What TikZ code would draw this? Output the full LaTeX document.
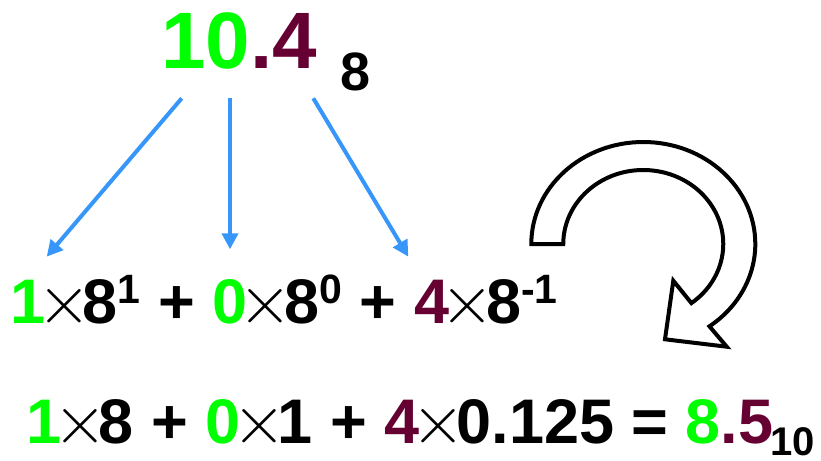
\RequirePackage{fix-cm}
\documentclass[tikz,border=0pt]{standalone}
\usepackage{fontspec}
\setmainfont{Liberation Sans}
\usetikzlibrary{arrows.meta}
\definecolor{dgreen}{RGB}{0,255,0}
\definecolor{maroon}{RGB}{102,0,51}
\definecolor{ablue}{RGB}{55,150,250}
\newcommand{\tm}{\makebox[37pt]{\scalebox{1.1}{$\times$}}}
\newcommand{\sups}[1]{\raisebox{20pt}{\fontsize{41}{41}\selectfont #1}}
\begin{document}
\begin{tikzpicture}[x=1pt,y=-1pt,
  txt/.style={inner sep=0pt, anchor=base west},
  big/.style={txt, font=\bfseries\fontsize{80}{80}\selectfont},
  mid/.style={txt, font=\bfseries\fontsize{63}{63}\selectfont},
  sub/.style={txt, font=\bfseries\fontsize{54}{54}\selectfont},
  small/.style={txt, font=\bfseries\fontsize{40}{40}\selectfont},
  link/.style={draw=ablue, line width=4pt, -{Triangle[length=16pt,width=16pt]}},
  turn/.style={draw=black, line width=4pt, fill=white, line join=miter}]
\useasboundingbox (0,0) rectangle (821,460);
\node[big] (num) at (161,68) {\textcolor{dgreen}{10}\textcolor{maroon}{.4}};
\node[sub] (radix) at (340.5,90) {8};
\node[mid] (expand) at (10.5,323.3) {\textcolor{dgreen}{1}\tm 8\sups{1} + \textcolor{dgreen}{0}\tm 8\sups{0} + \textcolor{maroon}{4}\tm 8\sups{-1}};
\node[mid] (eval) at (26.5,443.5) {\textcolor{dgreen}{1}\tm 8 + \textcolor{dgreen}{0}\tm 1 + \textcolor{maroon}{4}\tm 0.125 = \textcolor{dgreen}{8}\textcolor{maroon}{.5}};
\node[small] (dec) at (770,455.5) {10};
\coordinate (s1) at (181.7,98.3);
\coordinate (t1) at (46.7,256.7);
\coordinate (s2) at (230,98.3);
\coordinate (t2) at (230,249.3);
\coordinate (s3) at (313.3,98.3);
\coordinate (t3) at (408.3,256.7);
\draw[link] (s1) -- (t1);
\draw[link] (s2) -- (t2);
\draw[link] (s3) -- (t3);
\coordinate (c0) at (531.3,244);
\coordinate (b2) at (726.7,346.7);
\coordinate (tip) at (665,339.3);
\coordinate (b1) at (673.3,280.7);
\coordinate (c1) at (691.4,303.1);
\path[turn] (c0) arc[start angle=180, end angle=413.8, x radius=112, y radius=102]
  -- (b2) -- (tip) -- (b1) -- (c1)
  arc[start angle=413, end angle=180, x radius=80, y radius=74] -- cycle;
\end{tikzpicture}
\end{document}
